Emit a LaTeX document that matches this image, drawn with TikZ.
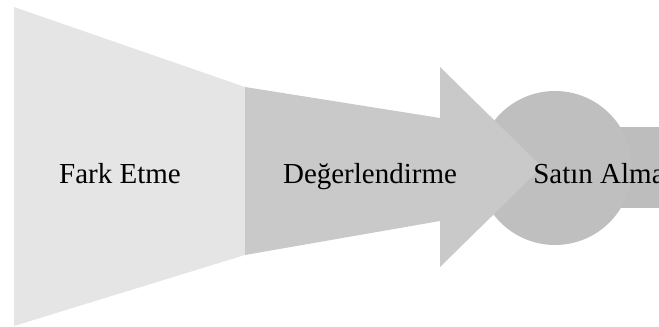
\documentclass[tikz,border=0pt]{standalone}
\usepackage{fontspec}
\setmainfont{Liberation Serif}
\begin{document}
\begin{tikzpicture}[x=0.02cm, y=-0.02cm,
  stage/.style={font=\fontsize{16.5}{20}\selectfont, inner sep=0pt, anchor=base},
]
  \useasboundingbox (0,0) rectangle (659,327);
  \clip (0,0) rectangle (659,327);

  % Satin Alma bar and circle
  \fill[black!26] (540,127) rectangle (670,208);
  \fill[black!25] (555,168) circle[radius=77];

  % Fark Etme funnel
  \fill[black!10] (14,7) -- (245,87) -- (245,255) -- (14,326) -- cycle;

  % Degerlendirme arrow
  \fill[black!21] (245,87) -- (440,118) -- (440,67) -- (542,167)
    -- (440,267) -- (440,221) -- (245,255) -- cycle;

  \node[stage] (fark) at (120,184) {Fark Etme};
  \node[stage] (deger) at (370,184) {Değerlendirme};
  \node[stage, anchor=base west] (satin) at (533,184) {Satın Alma};
\end{tikzpicture}
\end{document}
